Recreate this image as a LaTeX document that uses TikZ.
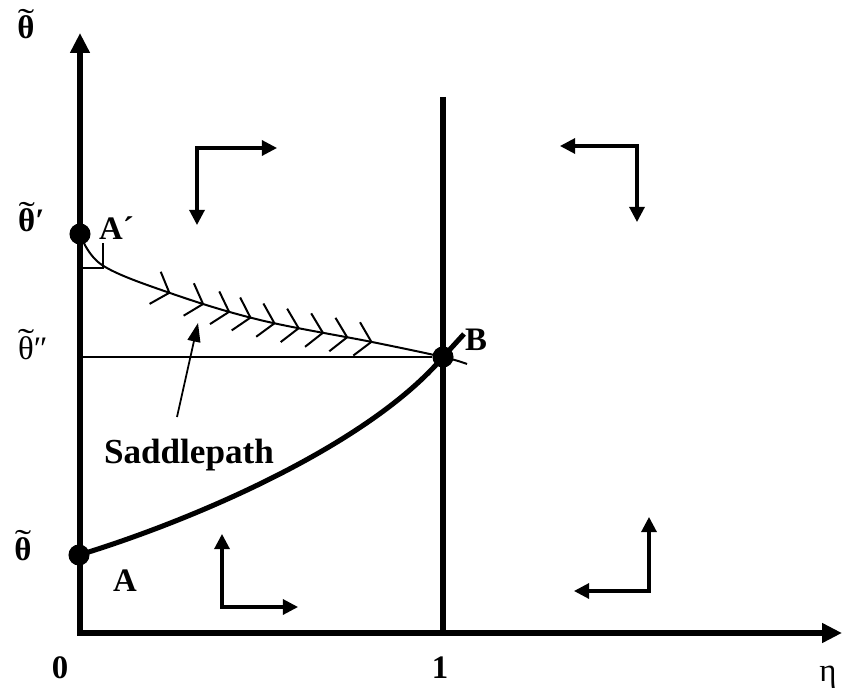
\documentclass[tikz,border=0pt]{standalone}
\usepackage{graphicx}
\usepackage{fontspec}
\setmainfont{Liberation Serif}
\usetikzlibrary{arrows.meta,positioning,decorations.markings}
\tikzset{
    dot/.style={circle,fill=black,inner sep=0pt,minimum size=18pt},
    axis/.style={line width=5pt,line join=miter,
        {Triangle[length=17pt,width=16pt]}-{Triangle[length=17pt,width=16pt]}},
    flow/.style={line width=2.6pt,
        {Triangle[length=13pt,width=13pt]}-{Triangle[length=13pt,width=13pt]}},
    lbl/.style={inner sep=0pt,font=\fontsize{28}{34}\selectfont\bfseries},
    plainlbl/.style={inner sep=0pt,font=\fontsize{28}{34}\selectfont},
    chevron/.style={line width=1.7pt},
    >={Triangle[length=16pt,width=11pt]}
}
% theta with a wide tilde on top
\newcommand{\tld}[1]{\ooalign{#1\cr\hidewidth\raisebox{0.24em}{\scalebox{1.5}[1]{\mdseries\char"02DC}}\hidewidth\cr}}

\begin{document}
\begin{tikzpicture}[x=0.03cm,y=0.03cm]
\useasboundingbox (0,0) rectangle (850,693);
% axes and the line eta = 1
\coordinate (O) at (80,60);
\coordinate (ytop) at (80,660);
\coordinate (xend) at (842,60);
\draw[axis] (ytop) -- (O) -- (xend);
\coordinate (one top) at (443,596);
\coordinate (one) at (443,60);
\draw[line width=4.3pt] (one top) -- (one);

% points
\node[dot] (Ap) at (80,459) {};
\node[dot] (A) at (79,138) {};
\node[dot] (B) at (443,336) {};

% saddlepath with its chevrons
\draw[chevron,postaction={decorate,decoration={markings,
    mark=at position 0.267 with {\draw[chevron] (-15,17) -- (0,0) -- (-15,-17);},
    mark=at position 0.352 with {\draw[chevron] (-15,17) -- (0,0) -- (-15,-17);},
    mark=at position 0.417 with {\draw[chevron] (-15,17) -- (0,0) -- (-15,-17);},
    mark=between positions 0.47 and 0.77 step 0.059 with {\draw[chevron] (-15,17) -- (0,0) -- (-15,-17);}}}]
    plot[smooth,tension=0.6] coordinates {(Ap.center) (102,428) (170,400) (260,373) (372,351) (B.center) (467,329)};
\draw[line width=1.5pt] (80,425) -| (103,450);
\draw[line width=1.5pt] (O |- B) -- (B);

% stable arm from A through B
\coordinate (Bx) at (464,359);
\draw[line width=4.3pt] (A.center) .. controls (200,175) and (370,250) .. (B.center) -- (Bx);

% phase arrows
\draw[flow] (277,545) -| (197,468);
\draw[flow] (560,547) -| (637,471);
\draw[flow] (222,159) |- (298,86);
\draw[flow] (649,176) |- (574,102);

% labels
\node[lbl,anchor=base] (th top) at (26,654) {\tld{θ}};
\node[lbl,anchor=base west] (th p) at (18,461) {\tld{θ}′};
\node[plainlbl,anchor=base west] (th pp) at (18,334) {\tld{θ}″};
\node[lbl,anchor=base] (th low) at (23,133) {\tld{θ}};
\node[lbl,anchor=base west] (Ap lbl) at (99,453) {A´};
\node[lbl,anchor=base] (A lbl) at (125,102) {A};
\node[lbl,anchor=base west] (B lbl) at (465,343) {B};
\node[lbl,anchor=base] (zero) at (60,15) {0};
\node[lbl,anchor=base] (unit) at (440,15) {1};
\node[plainlbl,anchor=base] (eta) at (828,12) {η};
\node[lbl,anchor=base,font=\fontsize{30}{36}\selectfont\bfseries] (sp) at (189,230) {Saddlepath};
\coordinate (sp tail) at (177,276);
\coordinate (sp head) at (198,370);
\draw[line width=1.5pt,->] (sp tail) -- (sp head);
\end{tikzpicture}
\end{document}
